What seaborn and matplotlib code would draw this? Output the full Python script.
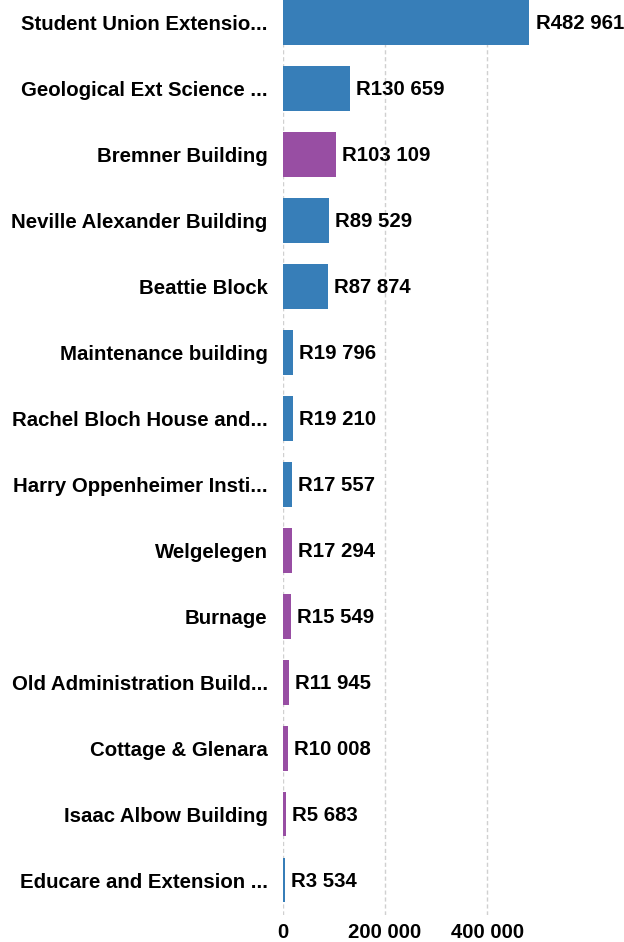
import matplotlib
matplotlib.use("Agg")
import matplotlib.pyplot as plt
import seaborn as sns
import pandas as pd

categories = [
    "Student Union Extensio...", "Geological Ext Science ...", "Bremner Building",
    "Neville Alexander Building", "Beattie Block", "Maintenance building",
    "Rachel Bloch House and...", "Harry Oppenheimer Insti...", "Welgelegen",
    "Burnage", "Old Administration Build...", "Cottage & Glenara",
    "Isaac Albow Building", "Educare and Extension ...",
]
values = [482961, 130659, 103109, 89529, 87874, 19796, 19210, 17557,
          17294, 15549, 11945, 10008, 5683, 3534]
groups = ["A", "A", "B", "A", "A", "A", "A", "A", "B", "B", "B", "B", "B", "A"]
xticks = [0, 200000, 400000]
xtick_labels = ["0", "200 000", "400 000"]

sns.set_theme(style="white")
plt.rcParams["font.family"] = ["Liberation Sans", "DejaVu Sans"]
plt.rcParams["font.weight"] = "bold"

df = pd.DataFrame({"cat": categories, "val": values, "grp": groups})

fig = plt.figure(figsize=(6.24, 9.42), dpi=100)
ax = fig.add_axes([283 / 624, 27 / 942, (579 - 283) / 624, 915 / 942])

sns.barplot(data=df, x="val", y="cat", hue="grp", dodge=False, legend=False,
            palette={"A": "#377eb8", "B": "#984ea3"}, width=0.68, ax=ax,
            orient="h", saturation=1, linewidth=0)

FS = 14.7
ax.set_xlim(0, 580000)
ax.set_ylim(len(categories) - 0.47, -0.34)
ax.set_xticks(xticks)
ax.set_xticklabels(xtick_labels, fontsize=FS, fontweight="bold", color="black")
ax.set_yticks(range(len(categories)))
ax.set_yticklabels(categories, fontsize=FS, fontweight="bold", color="black")
ax.set_xlabel("")
ax.set_ylabel("")
for s in ax.spines.values():
    s.set_visible(False)
ax.tick_params(axis="y", length=0, pad=11)
ax.tick_params(axis="x", length=2, color="#f5b87a", pad=4)
ax.xaxis.grid(True, linestyle=(0, (3, 2)), color="#d0d0d0", linewidth=1)
ax.set_axisbelow(True)

for i, v in enumerate(values):
    ax.annotate(f"R{v:,}".replace(",", " "), (v, i), xytext=(4.5, -1),
                textcoords="offset points", va="center", ha="left",
                fontsize=FS, fontweight="bold", color="black", clip_on=False)

fig.savefig("out.png", dpi=100)
